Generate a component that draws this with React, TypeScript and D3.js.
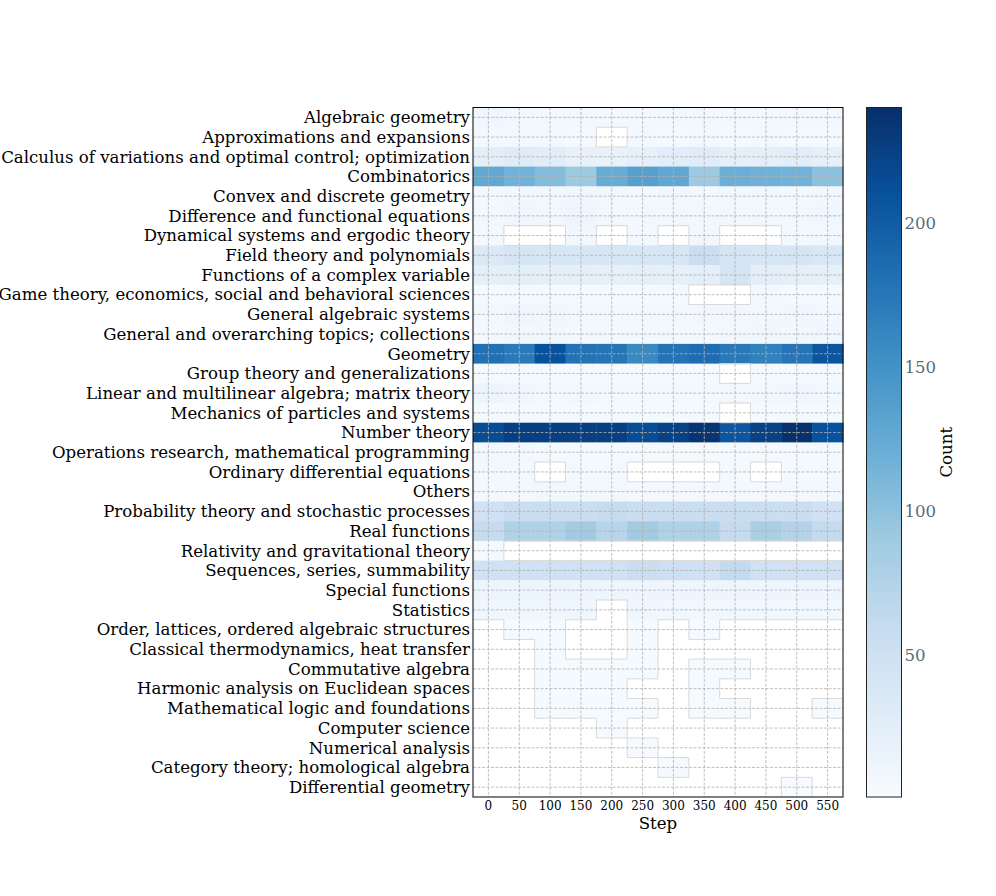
import React, { useEffect, useRef } from 'react';
import * as d3 from 'd3';

const categories = [
  'Algebraic geometry',
  'Approximations and expansions',
  'Calculus of variations and optimal control; optimization',
  'Combinatorics',
  'Convex and discrete geometry',
  'Difference and functional equations',
  'Dynamical systems and ergodic theory',
  'Field theory and polynomials',
  'Functions of a complex variable',
  'Game theory, economics, social and behavioral sciences',
  'General algebraic systems',
  'General and overarching topics; collections',
  'Geometry',
  'Group theory and generalizations',
  'Linear and multilinear algebra; matrix theory',
  'Mechanics of particles and systems',
  'Number theory',
  'Operations research, mathematical programming',
  'Ordinary differential equations',
  'Others',
  'Probability theory and stochastic processes',
  'Real functions',
  'Relativity and gravitational theory',
  'Sequences, series, summability',
  'Special functions',
  'Statistics',
  'Order, lattices, ordered algebraic structures',
  'Classical thermodynamics, heat transfer',
  'Commutative algebra',
  'Harmonic analysis on Euclidean spaces',
  'Mathematical logic and foundations',
  'Computer science',
  'Numerical analysis',
  'Category theory; homological algebra',
  'Differential geometry',
];

const steps = [0, 50, 100, 150, 200, 250, 300, 350, 400, 450, 500, 550];

const _ = null;
// one row per category, one value per step (null = no entries)
const counts: (number | null)[][] = [
  [10, 8, 7, 8, 6, 7, 9, 8, 7, 7, 8, 7],
  [6, 6, 6, 5, _, 6, 5, 6, 5, 6, 5, 5],
  [25, 30, 27, 19, 18, 21, 27, 29, 23, 23, 27, 21],
  [127, 116, 106, 91, 123, 135, 128, 91, 120, 117, 116, 101],
  [7, 8, 9, 10, 8, 7, 8, 7, 9, 8, 7, 8],
  [8, 10, 9, 12, 9, 8, 9, 8, 9, 9, 8, 10],
  [7, _, _, 8, _, 7, _, 8, _, _, 7, 8],
  [34, 42, 40, 40, 40, 41, 40, 55, 43, 40, 42, 38],
  [23, 26, 24, 24, 22, 24, 22, 24, 42, 25, 24, 22],
  [5, 5, 5, 5, 5, 5, 5, _, _, 6, 5, 5],
  [8, 12, 11, 9, 8, 8, 8, 8, 8, 9, 10, 8],
  [7, 9, 8, 7, 7, 7, 7, 7, 8, 11, 9, 10],
  [180, 172, 210, 178, 176, 158, 178, 184, 173, 166, 176, 205],
  [5, 5, 5, 5, 5, 5, 5, 5, _, 5, 5, 5],
  [14, 10, 7, 8, 7, 7, 7, 7, 7, 8, 10, 9],
  [4, 4, 4, 4, 4, 4, 4, 4, _, 4, 4, 4],
  [215, 226, 226, 226, 226, 215, 224, 236, 205, 225, 240, 210],
  [9, 6, 5, 5, 5, 5, 5, 5, 5, 5, 5, 5],
  [6, 6, _, 6, 6, _, _, _, 5, _, 5, 5],
  [7, 7, 9, 9, 8, 7, 7, 7, 7, 7, 7, 7],
  [50, 55, 55, 55, 60, 55, 55, 55, 55, 55, 55, 50],
  [60, 77, 77, 88, 72, 88, 77, 77, 60, 82, 74, 62],
  [4, _, _, _, _, _, _, _, _, _, _, _],
  [50, 50, 50, 50, 50, 56, 52, 50, 62, 50, 50, 50],
  [13, 13, 13, 13, 12, 12, 12, 12, 12, 12, 12, 12],
  [10, 10, 10, 10, _, 10, 9, 9, 9, 9, 9, 9],
  [_, 3, 3, _, _, 3, _, 3, _, _, _, _],
  [_, _, 3, _, _, 3, _, _, _, _, _, _],
  [_, _, 3, 3, 3, 3, _, 3, 3, _, _, _],
  [_, _, 3, 3, 3, _, _, 3, _, _, _, _],
  [_, _, 3, 3, 3, 3, _, 3, 3, _, _, 3],
  [_, _, _, _, 2, _, _, _, _, _, _, _],
  [_, _, _, _, _, 2, _, _, _, _, _, _],
  [_, _, _, _, _, _, 2, _, _, _, _, _],
  [_, _, _, _, _, _, _, _, _, _, 1, _],
];

const colorTicks = [50, 100, 150, 200];

// matplotlib "Blues" anchor colours (linear segments)
const bluesStops = ['#f7fbff', '#deebf7', '#c6dbef', '#9ecae1', '#6baed6', '#4292c6', '#2171b5', '#08519c', '#08306b'];

const W = 996;
const H = 896;

const HeatmapChart: React.FC = () => {
  const ref = useRef<SVGSVGElement>(null);

  useEffect(() => {
    if (!ref.current) return;
    const svg = d3.select(ref.current);
    svg.selectAll('*').remove();

    const plot = { left: 473, right: 843, top: 107.5, bottom: 797 };
    const font = 'DejaVu Serif, serif';

    const x = d3.scaleBand<number>()
      .domain(steps)
      .range([plot.left, plot.right]);
    const y = d3.scaleBand<string>()
      .domain(categories)
      .range([plot.top, plot.bottom]);

    const vmin = 1;
    const vmax = 240;
    const blues = d3.scaleLinear<string>()
      .domain(bluesStops.map((_c, i) => i / (bluesStops.length - 1)))
      .range(bluesStops)
      .interpolate(d3.interpolateRgb)
      .clamp(true);
    const color = (v: number) => blues((v - vmin) / (vmax - vmin));

    const cells = counts.flatMap((row, i) =>
      row.map((v, j) => ({ cat: categories[i], step: steps[j], v, i, j }))
    );

    // cells
    svg.append('g')
      .selectAll('rect')
      .data(cells.filter(d => d.v !== null))
      .enter()
      .append('rect')
      .attr('x', d => x(d.step)!)
      .attr('y', d => y(d.cat)!)
      .attr('width', x.bandwidth() + 0.5)
      .attr('height', y.bandwidth() + 0.5)
      .attr('fill', d => color(d.v as number));

    // faint outline where a filled cell meets an empty one
    const edges: [number, number, number, number][] = [];
    const isEmpty = (i: number, j: number) =>
      i >= 0 && i < counts.length && j >= 0 && j < steps.length && counts[i][j] === null;
    cells.filter(d => d.v !== null).forEach(d => {
      const x0 = x(d.step)!;
      const x1 = x0 + x.bandwidth();
      const y0 = y(d.cat)!;
      const y1 = y0 + y.bandwidth();
      if (isEmpty(d.i - 1, d.j)) edges.push([x0, y0, x1, y0]);
      if (isEmpty(d.i + 1, d.j)) edges.push([x0, y1, x1, y1]);
      if (isEmpty(d.i, d.j - 1)) edges.push([x0, y0, x0, y1]);
      if (isEmpty(d.i, d.j + 1)) edges.push([x1, y0, x1, y1]);
    });
    svg.append('g')
      .selectAll('line')
      .data(edges)
      .enter()
      .append('line')
      .attr('x1', d => d[0]).attr('y1', d => d[1])
      .attr('x2', d => d[2]).attr('y2', d => d[3])
      .attr('stroke', '#d9d9d9')
      .attr('stroke-width', 1);

    // dashed grid at tick positions
    const grid = svg.append('g')
      .attr('stroke', '#b0b0b0')
      .attr('stroke-width', 0.8)
      .attr('stroke-dasharray', '3,1.5');
    steps.forEach(s => {
      const cx = x(s)! + x.bandwidth() / 2;
      grid.append('line')
        .attr('x1', cx).attr('x2', cx)
        .attr('y1', plot.top).attr('y2', plot.bottom);
    });
    categories.forEach(c => {
      const cy = y(c)! + y.bandwidth() / 2;
      grid.append('line')
        .attr('x1', plot.left).attr('x2', plot.right)
        .attr('y1', cy).attr('y2', cy);
    });

    // frame
    svg.append('rect')
      .attr('x', plot.left)
      .attr('y', plot.top)
      .attr('width', plot.right - plot.left)
      .attr('height', plot.bottom - plot.top)
      .attr('fill', 'none')
      .attr('stroke', '#000')
      .attr('stroke-width', 1);

    // y labels
    svg.append('g')
      .selectAll('text')
      .data(categories)
      .enter()
      .append('text')
      .attr('x', plot.left - 3)
      .attr('y', d => y(d)! + y.bandwidth() / 2)
      .attr('dy', '0.35em')
      .attr('text-anchor', 'end')
      .style('font-family', font)
      .style('font-size', '16.6px')
      .attr('fill', '#000')
      .text(d => d);

    // x labels
    svg.append('g')
      .selectAll('text')
      .data(steps)
      .enter()
      .append('text')
      .attr('x', d => x(d)! + x.bandwidth() / 2)
      .attr('y', 810)
      .attr('text-anchor', 'middle')
      .style('font-family', font)
      .style('font-size', '12px')
      .text(d => String(d));

    svg.append('text')
      .attr('x', (plot.left + plot.right) / 2)
      .attr('y', 829)
      .attr('text-anchor', 'middle')
      .style('font-family', font)
      .style('font-size', '16.6px')
      .text('Step');

    // colorbar
    const cb = { left: 866.5, right: 901.5 };
    const cy = d3.scaleLinear().domain([vmin, vmax]).range([plot.bottom, plot.top]);
    const defs = svg.append('defs');
    const grad = defs.append('linearGradient')
      .attr('id', 'cbGrad')
      .attr('x1', 0).attr('y1', 1).attr('x2', 0).attr('y2', 0);
    bluesStops.forEach((c, i) => {
      grad.append('stop')
        .attr('offset', i / (bluesStops.length - 1))
        .attr('stop-color', c);
    });
    svg.append('rect')
      .attr('x', cb.left)
      .attr('y', plot.top)
      .attr('width', cb.right - cb.left)
      .attr('height', plot.bottom - plot.top)
      .attr('fill', 'url(#cbGrad)')
      .attr('stroke', '#222')
      .attr('stroke-width', 1);

    svg.append('g')
      .selectAll('text')
      .data(colorTicks)
      .enter()
      .append('text')
      .attr('x', cb.right + 3)
      .attr('y', d => cy(d))
      .attr('dy', '0.35em')
      .style('font-family', font)
      .style('font-size', '16.6px')
      .attr('fill', '#5b6d78')
      .text(d => String(d));

    svg.append('text')
      .attr('transform', `translate(952,${(plot.top + plot.bottom) / 2}) rotate(-90)`)
      .attr('text-anchor', 'middle')
      .style('font-family', font)
      .style('font-size', '16.6px')
      .text('Count');
  }, []);

  return (
    <svg
      ref={ref}
      width={W}
      height={H}
      style={{ position: 'absolute', left: 0, top: 0, background: '#fff' }}
    />
  );
};

export default function App() {
  return <HeatmapChart />;
}
